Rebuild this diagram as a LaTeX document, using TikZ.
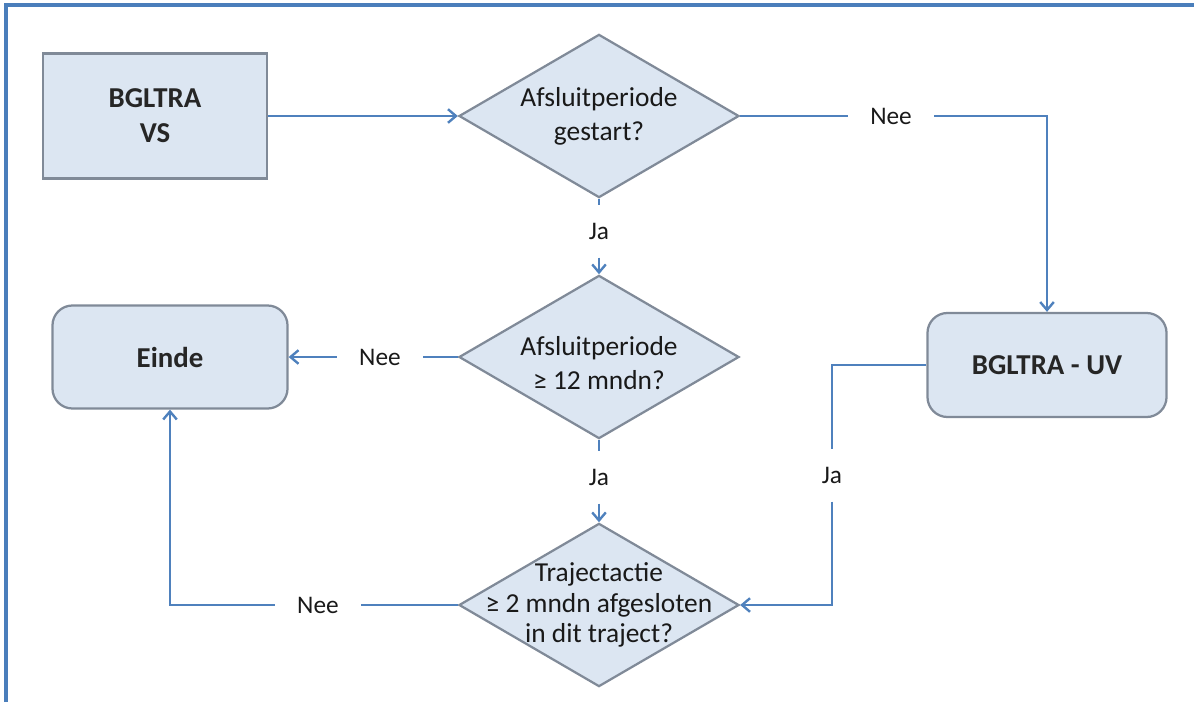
\documentclass[tikz,border=0pt]{standalone}
\usepackage{fontspec}
\setmainfont{Carlito}
\usetikzlibrary{shapes.geometric,arrows.meta}
\definecolor{flowblue}{RGB}{79,129,189}
\definecolor{framblue}{RGB}{74,126,187}
\definecolor{boxfill}{RGB}{220,230,242}
\definecolor{boxline}{RGB}{128,138,152}
\tikzset{
	box/.style={draw=boxline, fill=boxfill, line width=1.6pt, align=center, text=black!85, font=\fontsize{20.5}{24.8}\selectfont\bfseries},
	termbox/.style={box, rounded corners=0.5cm},
	decision/.style={diamond, draw=boxline, fill=boxfill, line width=1.6pt, inner sep=0pt, minimum width=7cm, minimum height=4.08cm},
	dectext/.style={align=center, text=black!90, font=\fontsize{19.5}{24}\selectfont},
	answer/.style={inner xsep=0.55cm, inner ysep=0.45cm, text=black!90, font=\fontsize{18}{22}\selectfont},
	conn/.style={draw=flowblue, line width=1.7pt},
	flow/.style={conn, -{Straight Barb[length=2mm,width=3.4mm]}},
}
\begin{document}
\begin{tikzpicture}[x=0.025cm, y=-0.025cm]
		%%%%% START %%%%%
		\useasboundingbox (0, 0) rectangle (1194, 702);
		\draw[framblue, line width=2.4pt] (6, 702) -- (6, 5) -- (1194, 5);
		
		\node[box, minimum width=5.6cm, minimum height=3.125cm] (vs) at (155, 116) {BGLTRA\\VS};
		\node[termbox, minimum width=5.975cm, minimum height=2.6cm] (uv) at (1047, 365) {BGLTRA - UV};
		\node[termbox, minimum width=5.875cm, minimum height=2.575cm] (einde) at (170, 357) {Einde};
		
		\node[decision] (gestart) at (599, 116) {};
		\node[dectext] (gestart-t) at (gestart) {Afsluitperiode\\gestart?};
		\node[decision] (twaalf) at (599, 357) {};
		\node[dectext, yshift=-0.15cm] (twaalf-t) at (twaalf) {Afsluitperiode\\≥ 12 mndn?};
		\node[decision] (traject) at (599, 605) {};
		\node[dectext, font=\fontsize{19.5}{21.5}\selectfont] (traject-t) at (traject) {Trajectactie\\≥ 2 mndn afgesloten\\in dit traject?};
		
		\node[answer] (nee1) at (891, 116) {Nee};
		\node[answer] (ja1) at (599, 231) {Ja};
		\node[answer] (nee2) at (380, 357) {Nee};
		\node[answer] (ja2) at (599, 477) {Ja};
		\node[answer] (nee3) at (318, 605) {Nee};
		\node[answer] (ja3) at (832, 475) {Ja};
		
		\draw[flow] (vs) -- (gestart);
		\draw[conn] (gestart) -- (nee1);
		\draw[flow] (nee1) -| (uv);
		\draw[conn] (gestart) -- (ja1);
		\draw[flow] (ja1) -- (twaalf);
		\draw[conn] (twaalf) -- (nee2);
		\draw[flow] (nee2) -- (einde);
		\draw[conn] (twaalf) -- (ja2);
		\draw[flow] (ja2) -- (traject);
		\draw[conn] (traject) -- (nee3);
		\draw[flow] (nee3) -| (einde);
		\draw[conn] (uv) -| (ja3);
		\draw[flow] (ja3) |- (traject);
		%%%%% END %%%%%
	\end{tikzpicture}
\end{document}
